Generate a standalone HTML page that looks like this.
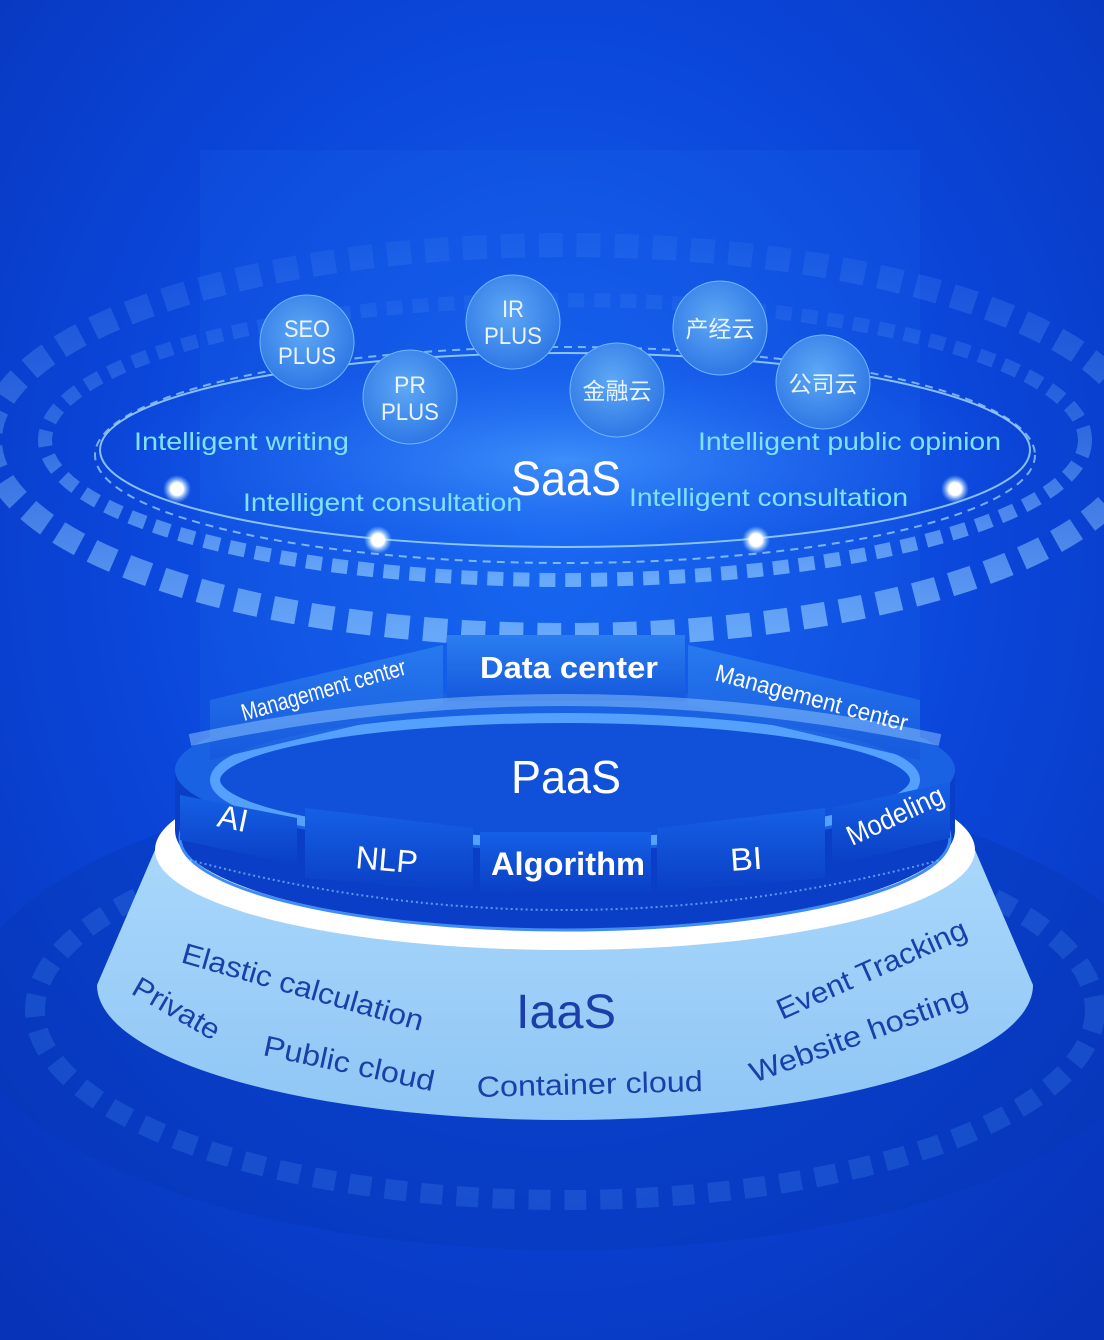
<!DOCTYPE html>
<html><head><meta charset="utf-8"><style>
html,body{margin:0;padding:0;background:#0a3fd2;}
svg{display:block;}
text{font-family:"Liberation Sans","Noto Sans CJK SC",sans-serif;}
</style></head><body>
<svg width="1104" height="1340" viewBox="0 0 1104 1340" xmlns="http://www.w3.org/2000/svg">
<defs>
<radialGradient id="bg" cx="0.5" cy="0.4" r="0.75">
<stop offset="0" stop-color="#1565f0"/><stop offset="0.5" stop-color="#0b47db"/><stop offset="1" stop-color="#0733b8"/>
</radialGradient>
<radialGradient id="glow" cx="0.5" cy="0.5" r="0.5">
<stop offset="0" stop-color="#4fa0ff" stop-opacity="0.7"/><stop offset="1" stop-color="#1a5ff0" stop-opacity="0"/>
</radialGradient>
<radialGradient id="bub" cx="0.45" cy="0.4" r="0.6">
<stop offset="0" stop-color="#5ea8f5"/><stop offset="1" stop-color="#2f78e6"/>
</radialGradient>
<linearGradient id="iaas" x1="0" y1="0" x2="0" y2="1">
<stop offset="0" stop-color="#a9d7fb"/><stop offset="1" stop-color="#8fc6f5"/>
</linearGradient>
<linearGradient id="panel" x1="0" y1="0" x2="0" y2="1">
<stop offset="0" stop-color="#1560e6"/><stop offset="1" stop-color="#0a3fc4"/>
</linearGradient>
<linearGradient id="panelT" x1="0" y1="0" x2="0" y2="1">
<stop offset="0" stop-color="#2a7df0"/><stop offset="1" stop-color="#1558dc"/>
</linearGradient>
<linearGradient id="ringG" x1="0" y1="0" x2="0" y2="1">
<stop offset="0" stop-color="#7cbcff" stop-opacity="0.08"/><stop offset="0.5" stop-color="#7cbcff" stop-opacity="0.35"/><stop offset="1" stop-color="#8cc8ff" stop-opacity="0.7"/>
</linearGradient>
<radialGradient id="dot" cx="0.5" cy="0.5" r="0.5">
<stop offset="0" stop-color="#fff"/><stop offset="0.45" stop-color="#fff"/><stop offset="1" stop-color="#8fd0ff" stop-opacity="0"/>
</radialGradient>
</defs>
<rect width="1104" height="1340" fill="url(#bg)"/>
<rect x="200" y="150" width="720" height="600" fill="#2a7ff5" opacity="0.12"/>
<!-- bottom faint rings -->
<ellipse cx="565" cy="1010" rx="600" ry="240" fill="#0636b3" opacity="0.35"/>
<ellipse cx="565" cy="1010" rx="530" ry="190" fill="none" stroke="#3f7fe8" stroke-width="20" stroke-dasharray="22 14" opacity="0.3"/>
<!-- SaaS rings -->
<ellipse cx="565" cy="440" rx="575" ry="195" fill="none" stroke="url(#ringG)" stroke-width="24" stroke-dasharray="24 14"/>
<ellipse cx="565" cy="440" rx="520" ry="140" fill="none" stroke="url(#ringG)" stroke-width="14" stroke-dasharray="16 10"/>
<ellipse cx="565" cy="460" rx="470" ry="120" fill="url(#glow)"/>
<ellipse cx="565" cy="450" rx="465" ry="97" fill="none" stroke="#a9dcff" stroke-width="2" opacity="0.8"/>
<ellipse cx="565" cy="455" rx="470" ry="108" fill="none" stroke="#a9dcff" stroke-width="2" stroke-dasharray="8 6" opacity="0.7"/>
<!-- bubbles -->
<g fill="url(#bub)" stroke="#6fb6ff" stroke-width="1">
<circle cx="307" cy="342" r="47"/><circle cx="410" cy="397" r="47"/><circle cx="513" cy="322" r="47"/>
<circle cx="617" cy="390" r="47"/><circle cx="720" cy="328" r="47"/><circle cx="823" cy="382" r="47"/>
</g>
<g fill="#e8f4ff" font-size="24" text-anchor="middle">
<text x="307" y="337" textLength="46" lengthAdjust="spacingAndGlyphs">SEO</text>
<text x="307" y="364" textLength="58" lengthAdjust="spacingAndGlyphs">PLUS</text>
<text x="410" y="393" textLength="32" lengthAdjust="spacingAndGlyphs">PR</text>
<text x="410" y="420" textLength="58" lengthAdjust="spacingAndGlyphs">PLUS</text>
<text x="513" y="317" textLength="22" lengthAdjust="spacingAndGlyphs">IR</text>
<text x="513" y="344" textLength="58" lengthAdjust="spacingAndGlyphs">PLUS</text>
<text x="617" y="399" font-size="23">金融云</text>
<text x="720" y="337" font-size="23">产经云</text>
<text x="823" y="392" font-size="23">公司云</text>
</g>
<g fill="#7fe3ff" font-size="25">
<text x="134" y="450" textLength="215" lengthAdjust="spacingAndGlyphs">Intelligent writing</text>
<text x="698" y="450" textLength="303" lengthAdjust="spacingAndGlyphs">Intelligent public opinion</text>
<text x="243" y="511" textLength="279" lengthAdjust="spacingAndGlyphs">Intelligent consultation</text>
<text x="629" y="506" textLength="279" lengthAdjust="spacingAndGlyphs">Intelligent consultation</text>
</g>
<text x="566" y="495" fill="#fff" font-size="48" text-anchor="middle" textLength="110" lengthAdjust="spacingAndGlyphs">SaaS</text>
<g fill="url(#dot)"><circle cx="177" cy="489" r="14"/><circle cx="378" cy="540" r="14"/><circle cx="756" cy="540" r="14"/><circle cx="955" cy="489" r="14"/></g>
<!-- IaaS frustum -->
<path d="M155,850 L97,985 A468,135 0 0 0 1033,985 L975,850 Z" fill="url(#iaas)"/>
<ellipse cx="565" cy="850" rx="410" ry="100" fill="#fff"/>
<!-- PaaS cylinder -->
<path d="M175,770 L175,830 A390,100 0 0 0 955,830 L955,770 Z" fill="#0a3ec6"/>
<ellipse cx="565" cy="838" rx="385" ry="92" fill="none" stroke="#3f8cf5" stroke-width="3"/>
<ellipse cx="565" cy="770" rx="390" ry="80" fill="#1a62e4"/>
<ellipse cx="565" cy="780" rx="350" ry="62" fill="#1150d8" stroke="#5aa8ff" stroke-width="10" opacity="0.9"/>
<!-- top panels -->
<path d="M210,700 L443,645 L443,705 L210,760 Z" fill="url(#panelT)" opacity="0.9"/>
<rect x="447" y="635" width="238" height="66" fill="url(#panelT)"/>
<path d="M688,645 L920,700 L920,760 L688,705 Z" fill="url(#panelT)" opacity="0.9"/>
<path d="M190,740 Q565,660 940,740" fill="none" stroke="#8fc8ff" stroke-width="12" opacity="0.5"/>
<text x="569" y="678" fill="#fff" font-size="31" font-weight="bold" text-anchor="middle" textLength="178" lengthAdjust="spacingAndGlyphs">Data center</text>
<text transform="translate(244,721) rotate(-16)" fill="#fff" font-size="24" textLength="170" lengthAdjust="spacingAndGlyphs">Management center</text>
<text transform="translate(714,680) rotate(15)" fill="#fff" font-size="24" textLength="198" lengthAdjust="spacingAndGlyphs">Management center</text>
<text x="566" y="793" fill="#fff" font-size="46" text-anchor="middle" textLength="110" lengthAdjust="spacingAndGlyphs">PaaS</text>
<!-- bottom panels -->
<path d="M180,795 L297,818 L297,865 L180,840 Z" fill="url(#panel)"/>
<path d="M305,808 L473,828 L473,892 L305,878 Z" fill="url(#panel)"/>
<rect x="480" y="832" width="171" height="62" fill="url(#panel)"/>
<path d="M657,828 L825,808 L825,878 L657,892 Z" fill="url(#panel)"/>
<path d="M832,808 L950,782 L950,838 L832,865 Z" fill="url(#panel)"/>
<g fill="#fff" font-size="32">
<text transform="translate(216,826) rotate(12)" textLength="30" lengthAdjust="spacingAndGlyphs">AI</text>
<text transform="translate(355,868) rotate(5)" textLength="62" lengthAdjust="spacingAndGlyphs">NLP</text>
<text x="491" y="875" font-weight="bold" textLength="154" lengthAdjust="spacingAndGlyphs">Algorithm</text>
<text transform="translate(731,871) rotate(-4)" textLength="32" lengthAdjust="spacingAndGlyphs">BI</text>
<text transform="translate(852,846) rotate(-25)" font-size="28" textLength="104" lengthAdjust="spacingAndGlyphs">Modeling</text>
</g>
<path d="M190,860 Q565,960 940,860" fill="none" stroke="#7fc0ff" stroke-width="2" stroke-dasharray="2 3" opacity="0.7"/>
<!-- IaaS text -->
<g fill="#1a3fa8" font-size="29">
<text x="566" y="1028" font-size="48" text-anchor="middle" textLength="100" lengthAdjust="spacingAndGlyphs">IaaS</text>
<text transform="translate(180,962) rotate(16)" textLength="250" lengthAdjust="spacingAndGlyphs">Elastic calculation</text>
<text transform="translate(130,993) rotate(30)" textLength="96" lengthAdjust="spacingAndGlyphs">Private</text>
<text transform="translate(262,1055) rotate(12)" textLength="174" lengthAdjust="spacingAndGlyphs">Public cloud</text>
<text transform="translate(477,1097) rotate(-1.5)" textLength="226" lengthAdjust="spacingAndGlyphs">Container cloud</text>
<text transform="translate(754,1083) rotate(-20)" textLength="230" lengthAdjust="spacingAndGlyphs">Website hosting</text>
<text transform="translate(782,1020) rotate(-24)" textLength="205" lengthAdjust="spacingAndGlyphs">Event Tracking</text>
</g>
</svg>
</body></html>
